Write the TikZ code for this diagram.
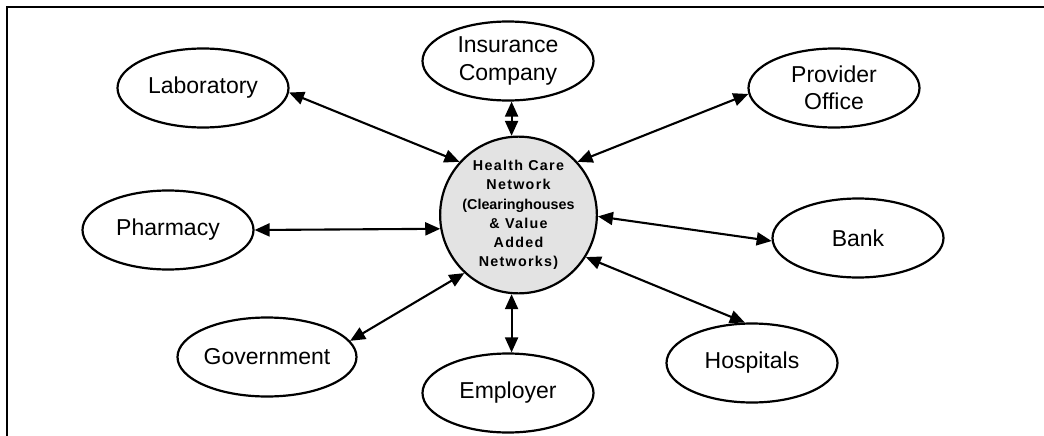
\documentclass[tikz,border=0pt]{standalone}
\usepackage{fontspec}
\setmainfont{Liberation Sans}
\newfontfamily\hubsp{Liberation Sans}[LetterSpace=9]
\newfontfamily\hubns{Liberation Sans}
\usetikzlibrary{shapes.geometric,arrows.meta}
\definecolor{hubfill}{RGB}{227,227,227}
\tikzset{
  party/.style={ellipse,draw,line width=2.2pt,minimum width=171pt,minimum height=79pt,inner sep=0pt,align=center,font=\fontsize{23}{27.5}\selectfont},
  hubnode/.style={circle,draw,line width=2.2pt,fill=hubfill,minimum size=151pt,inner sep=0pt,align=center,font=\fontsize{14.3}{19.2}\selectfont\bfseries},
  link/.style={line width=2.1pt,{Triangle[length=15pt,width=13pt]}-{Triangle[length=15pt,width=13pt]}},
  frameline/.style={line width=2.6pt}
}
\begin{document}
\begin{tikzpicture}[x=1pt,y=-1pt]
\useasboundingbox (0,0) rectangle (1044,436);
\draw[frameline] (7,436) -- (7,7) -- (1044,7);
\node[hubnode] (hub) at (518.5,215) {{\hubsp Health Care}\\{\hubsp Network}\\{\hubns (Clearinghouses}\\{\hubsp \& Value}\\{\hubsp Added}\\{\hubsp Networks)}};
\node[party] (lab) at (203,88) {Laboratory};
\node[party] (ins) at (508,61) {Insurance\\Company};
\node[party] (prov) at (834,88) {Provider\\Office};
\node[party] (pharm) at (168,230) {Pharmacy};
\node[party] (bank) at (858,238) {Bank};
\node[party] (gov) at (267,357) {Government};
\node[party] (hosp) at (752,363) {Hospitals};
\node[party] (emp) at (508,393) {Employer};
\draw[link] (lab.-3) -- (hub.138);
\draw[link] (ins.south -| hub.95) -- (hub.95);
\draw[link] (prov.184) -- (hub.42);
\draw[link] (pharm.east) -- (hub.190);
\draw[link] (bank.182) -- (hub.-1);
\draw[link] (hosp.100) -- (hub.-32);
\draw[link] (emp.north -| hub.-95) -- (hub.-95);
\draw[link] (gov.11) -- (hub.-133);
\end{tikzpicture}
\end{document}
